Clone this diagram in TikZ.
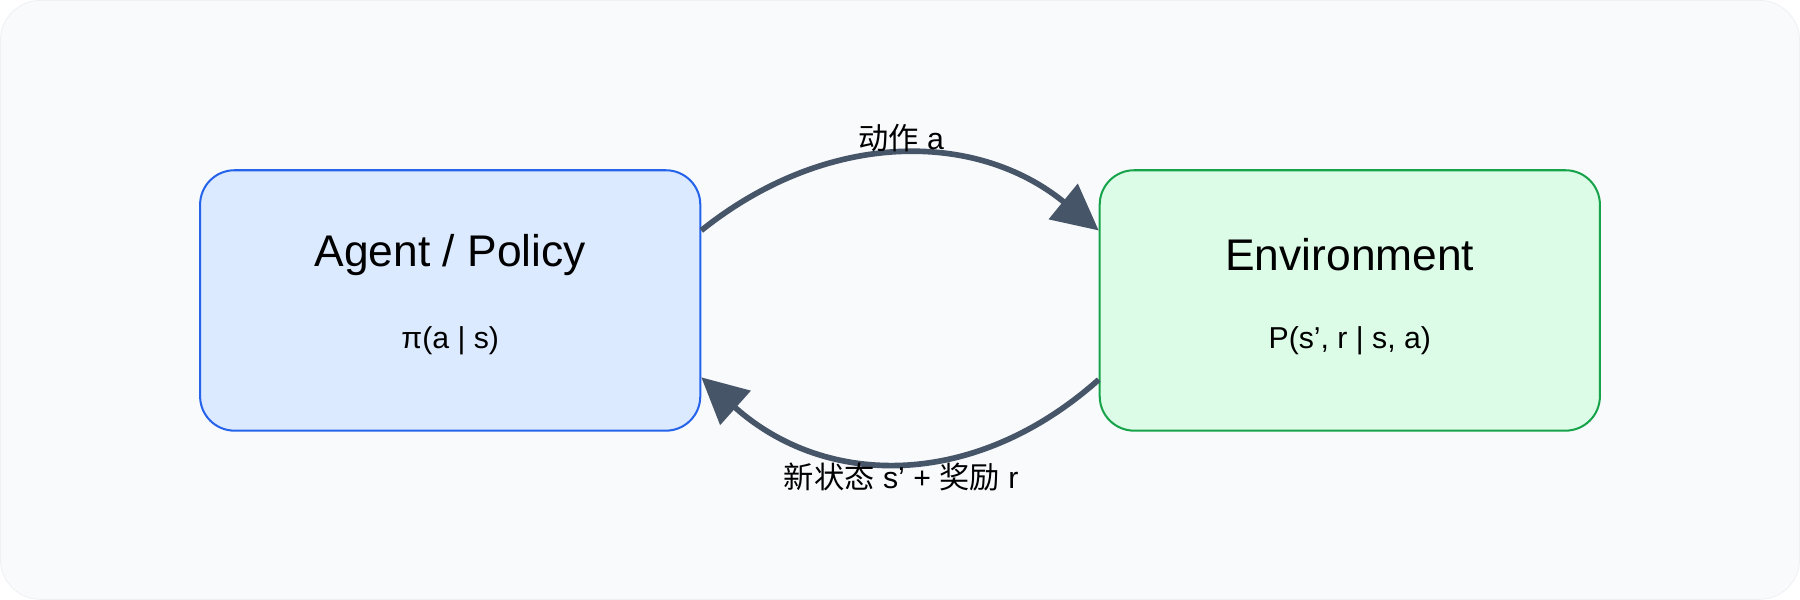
\documentclass[tikz,border=0pt]{standalone}
\usepackage{fontspec}
\setmainfont{Liberation Sans}
\newfontfamily\cjk{Noto Sans CJK SC}
\usetikzlibrary{arrows.meta}
\definecolor{bgcol}{HTML}{F8FAFC}
\definecolor{bgline}{HTML}{EEF0F3}
\definecolor{agentfill}{HTML}{DBEAFE}
\definecolor{agentline}{HTML}{2563EB}
\definecolor{envfill}{HTML}{DCFCE7}
\definecolor{envline}{HTML}{16A34A}
\definecolor{flow}{HTML}{475569}

\begin{document}
\begin{tikzpicture}[
    x=0.02cm, y=-0.02cm,
    box/.style={
        draw,
        rounded corners=0.6cm,
        line width=1pt,
        minimum width=8.72cm,
        minimum height=4.54cm
    },
    title/.style={font=\fontsize{22}{26}\selectfont},
    formula/.style={font=\fontsize{15}{18}\selectfont},
    label/.style={font=\fontsize{15}{18}\selectfont},
    flow/.style={
        draw=flow,
        line width=2.8pt,
        -{Triangle[length=0.8cm,width=0.78cm]}
    }
]

% Background
\draw[fill=bgcol, draw=bgline, rounded corners=0.7cm] (0,0) rectangle (1568,522);
\useasboundingbox (0,0) rectangle (1568,522);

% Boxes
\node[box, fill=agentfill, draw=agentline] (agent) at (392,261.5) {};
\node[box, fill=envfill, draw=envline] (env) at (1176,261.5) {};

% Texts
\node[title] (agenttitle) at (392,222) {Agent / Policy};
\node[formula] (agentpi) at (392,297) {π(a | s)};
\node[title] (envtitle) at (1176,222) {Environment};
\node[formula] (envp) at (1176,297) {P(s', r | s, a)};

% Connector ends
\path (agent.east) ++(0,-61) coordinate (a1);
\path (agent.east) ++(0,67) coordinate (a2);
\path (env.west) ++(0,-61) coordinate (e1);
\path (env.west) ++(0,69) coordinate (e2);

% Action
\draw[flow] (a1) .. controls (720,113) and (850,113) .. (e1);
\node[label] (action) at (785,120) {{\cjk 动作} a};

% State and reward
\draw[flow] (e2) .. controls (850,426) and (720,426) .. (a2);
\node[label] (feedback) at (785,415) {{\cjk 新状态} s' + {\cjk 奖励} r};

\end{tikzpicture}
\end{document}
